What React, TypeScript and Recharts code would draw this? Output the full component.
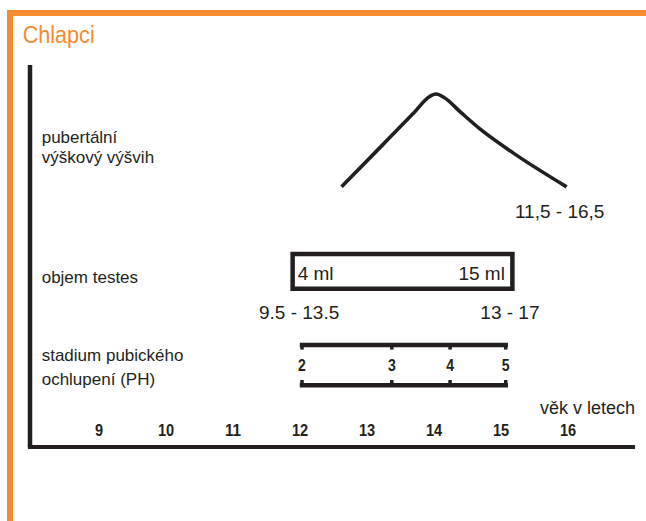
import React from 'react';
import { ComposedChart, Line, XAxis, YAxis, ReferenceArea, ReferenceLine, Scatter } from 'recharts';

// ---- data ----
const xTicks = [9, 10, 11, 12, 13, 14, 15, 16];

// pubertal growth spurt (schematic velocity curve)
const spurtAges = [12.62, 13.2, 13.7, 13.93, 14.03, 14.15, 14.4, 14.69, 15.18, 15.98];
const spurtVelocity = [6.81, 7.85, 8.75, 9.17, 9.24, 9.15, 8.76, 8.32, 7.7, 6.81];
const spurtRange = '11,5 - 16,5';

// testes volume
const testesAges = [11.89, 15.17];
const testesVolumes = ['4 ml', '15 ml'];
const testesRanges = ['9.5 - 13.5', '13 - 17'];

// pubic hair stages
const phStages = ['2', '3', '4', '5'];
const phAges = [12.03, 13.37, 14.24, 15.07];

const rowLabels = [
  ['pubertální', 'výškový výšvih'],
  ['objem testes'],
  ['stadium pubického', 'ochlupení (PH)'],
];
const title = 'Chlapci';
const xAxisTitle = 'věk v letech';

// ---- style ----
const FONT = '"Liberation Sans", Arial, Helvetica, sans-serif';
const INK = '#231f20';
const ORANGE = '#f58a2e';

// row levels (layout, in y-units)
const TESTES_LOW = 4.14;
const TESTES_HIGH = 5.05;
const PH_TOP = 2.67;
const PH_TOP_TICK = 2.55;
const PH_BOTTOM = 1.615;
const PH_BOTTOM_TICK = 1.754;
const PH_MID = 2.14;

const spurtData = spurtAges.map((a, i) => ({ age: a, v: spurtVelocity[i] }));
const phTopData = [{ age: phAges[0], v: PH_TOP }, { age: phAges[phAges.length - 1], v: PH_TOP }];
const phBottomData = [{ age: phAges[0], v: PH_BOTTOM }, { age: phAges[phAges.length - 1], v: PH_BOTTOM }];
const phLabelData = phAges.map((a, i) => ({ age: a, v: PH_MID, stage: phStages[i] }));

const XTick = (p: any) => {
  const s = String(p.payload.value);
  return (
    <text
      x={p.x}
      y={447 - 11}
      textAnchor="middle"
      fontFamily={FONT}
      fontWeight="bold"
      fontSize={16.5}
      fill={INK}
      textLength={8.1 * s.length}
      lengthAdjust="spacingAndGlyphs"
    >
      {s}
    </text>
  );
};

const testesLabel = (props: any) => {
  const { x, y, width, height } = props.viewBox;
  const common = { fontFamily: FONT, fontSize: 19, fill: INK };
  return (
    <g>
      <text x={x + 5} y={y + height / 2 + 9} {...common}>{testesVolumes[0]}</text>
      <text x={x + width - 7.5} y={y + height / 2 + 9} textAnchor="end" {...common}>{testesVolumes[1]}</text>
      <text x={x + 6.5} y={y + height + 30} textAnchor="middle" {...common}>{testesRanges[0]}</text>
      <text x={x + width - 2.5} y={y + height + 30} textAnchor="middle" {...common}>{testesRanges[1]}</text>
    </g>
  );
};

const spurtLabel = (p: any) =>
  p.index === spurtAges.length - 1 ? (
    <text x={p.x - 7} y={p.y + 31} textAnchor="middle" fontFamily={FONT} fontSize={19} fill={INK}>
      {spurtRange}
    </text>
  ) : (
    <g />
  );

const phShape = (p: any) => (
  <text
    x={p.cx}
    y={p.cy + 5.8}
    textAnchor="middle"
    fontFamily={FONT}
    fontWeight="bold"
    fontSize={16}
    fill={INK}
    textLength={7.8}
    lengthAdjust="spacingAndGlyphs"
  >
    {p.payload.stage}
  </text>
);

const axisTitle = (p: any) => {
  const vb = p.viewBox || {};
  const x = vb.x ?? 30;
  const width = vb.width ?? 603;
  return (
    <text x={x + width + 2} y={414} textAnchor="end" fontFamily={FONT} fontSize={18} fill={INK}>
      {xAxisTitle}
    </text>
  );
};

const rowBaselines = [[142.7, 163.3], [283.3], [361, 385]];

export default function App() {
  return (
    <div style={{ position: 'absolute', left: 0, top: 0, width: 646, height: 521, background: '#fff', overflow: 'hidden' }}>
      <div style={{ position: 'absolute', left: 7, top: 10, width: 639, height: 6, background: ORANGE }} />
      <div style={{ position: 'absolute', left: 7, top: 10, width: 6, height: 511, background: ORANGE }} />
      <div style={{ position: 'absolute', left: 0, top: 0 }}>
        <ComposedChart width={646} height={521} margin={{ top: 65, right: 13, bottom: 64, left: 20 }}>
          <XAxis
            type="number"
            dataKey="age"
            domain={[7.97, 16.97]}
            allowDataOverflow
            ticks={xTicks}
            tick={XTick}
            tickLine={false}
            tickSize={0}
            tickMargin={0}
            height={10}
            axisLine={{ stroke: INK, strokeWidth: 4.2, strokeLinecap: 'square' }}
            label={{ content: axisTitle }}
          />
          <YAxis
            type="number"
            dataKey="v"
            domain={[0, 10]}
            allowDataOverflow
            tick={false}
            tickLine={false}
            width={10}
            axisLine={{ stroke: INK, strokeWidth: 4.5 }}
          />
          <ReferenceArea
            x1={testesAges[0]}
            x2={testesAges[1]}
            y1={TESTES_LOW}
            y2={TESTES_HIGH}
            fill="#fff"
            fillOpacity={1}
            stroke={INK}
            strokeWidth={4.5}
            label={testesLabel}
          />
          <Line
            data={spurtData}
            dataKey="v"
            type="monotone"
            stroke={INK}
            strokeWidth={3.6}
            dot={false}
            isAnimationActive={false}
            label={spurtLabel}
          />
          <Line data={phTopData} dataKey="v" type="linear" stroke={INK} strokeWidth={4.5} strokeLinecap="square" dot={false} isAnimationActive={false} />
          <Line data={phBottomData} dataKey="v" type="linear" stroke={INK} strokeWidth={4.5} strokeLinecap="square" dot={false} isAnimationActive={false} />
          {phAges.map((a, i) => (
            <ReferenceLine key={'t' + i} segment={[{ x: a, y: PH_TOP }, { x: a, y: PH_TOP_TICK }]} stroke={INK} strokeWidth={3.5} />
          ))}
          {phAges.map((a, i) => (
            <ReferenceLine key={'b' + i} segment={[{ x: a, y: PH_BOTTOM }, { x: a, y: PH_BOTTOM_TICK }]} stroke={INK} strokeWidth={3.5} />
          ))}
          <Scatter data={phLabelData} dataKey="v" shape={phShape} isAnimationActive={false} />
        </ComposedChart>
      </div>
      <svg width={646} height={521} style={{ position: 'absolute', left: 0, top: 0, pointerEvents: 'none' }}>
        <text x={22.7} y={43.3} fontFamily={FONT} fontSize={23} fill={ORANGE} textLength={72} lengthAdjust="spacingAndGlyphs">
          {title}
        </text>
        {rowLabels.map((lines, r) =>
          lines.map((t, k) => (
            <text key={r + '-' + k} x={41.7} y={rowBaselines[r][k]} fontFamily={FONT} fontSize={17} fill={INK}>
              {t}
            </text>
          ))
        )}
      </svg>
    </div>
  );
}
